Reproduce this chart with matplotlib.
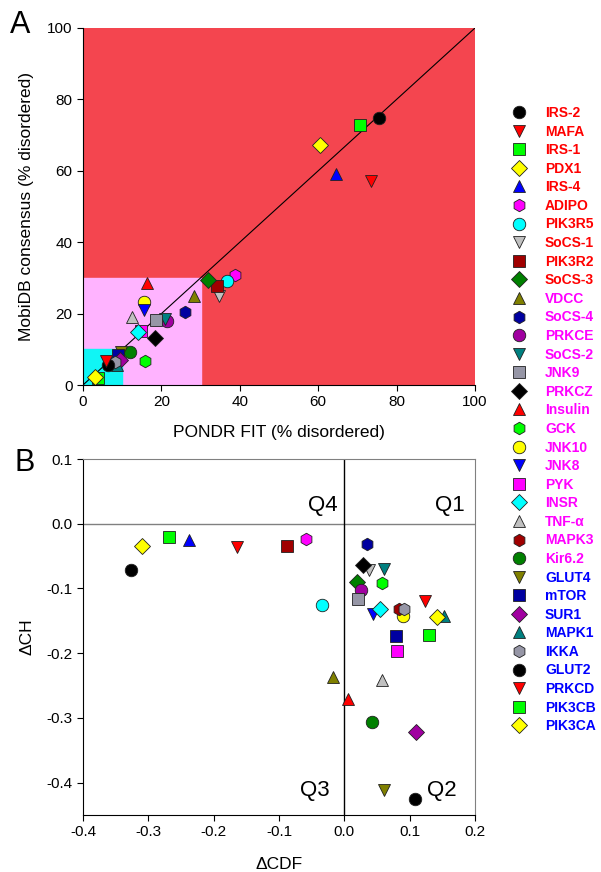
import matplotlib
matplotlib.use("Agg")
import matplotlib.pyplot as plt
from matplotlib.patches import Rectangle
from matplotlib.lines import Line2D

plt.rcParams['font.family'] = ['Liberation Sans', 'DejaVu Sans']
plt.rcParams['axes.unicode_minus'] = False

# Proteine (Reihenfolge wie in der Legende)
names = ["IRS-2", "MAFA", "IRS-1", "PDX1", "IRS-4", "ADIPO", "PIK3R5", "SoCS-1",
         "PIK3R2", "SoCS-3", "VDCC", "SoCS-4", "PRKCE", "SoCS-2", "JNK9", "PRKCZ",
         "Insulin", "GCK", "JNK10", "JNK8", "PYK", "INSR", "TNF-α", "MAPK3",
         "Kir6.2", "GLUT4", "mTOR", "SUR1", "MAPK1", "IKKA", "GLUT2", "PRKCD",
         "PIK3CB", "PIK3CA"]

# Panel A: PONDR FIT vs. MobiDB (% disordered)
pondr = [75.6, 73.4, 70.7, 60.5, 64.5, 38.9, 36.7, 34.7,
         34.1, 32.0, 28.4, 26.1, 21.5, 20.9, 18.5, 18.4,
         16.4, 15.8, 15.6, 15.6, 14.8, 14.0, 12.4, 9.0,
         12.0, 9.6, 9.0, 9.4, 8.6, 8.2, 6.5, 5.8,
         3.9, 3.1]
mobidb = [74.9, 57.2, 72.8, 67.2, 59.1, 30.8, 29.2, 24.9,
          27.7, 29.4, 24.9, 20.4, 17.9, 18.4, 18.2, 13.1,
          28.5, 6.8, 23.3, 21.0, 15.2, 14.8, 19.1, 7.5,
          9.2, 9.2, 8.4, 7.0, 5.6, 6.5, 5.6, 6.8,
          1.9, 2.2]

# Panel B: CH-CDF
dcdf = [-0.327, -0.164, -0.269, -0.309, -0.238, -0.059, -0.034, 0.038,
        -0.088, 0.019, -0.018, 0.035, 0.026, 0.061, 0.021, 0.028,
        0.005, 0.057, 0.090, 0.044, 0.081, 0.055, 0.058, 0.083,
        0.043, 0.060, 0.079, 0.109, 0.152, 0.091, 0.108, 0.123,
        0.130, 0.142]
dch = [-0.072, -0.036, -0.021, -0.034, -0.025, -0.023, -0.126, -0.071,
       -0.034, -0.090, -0.237, -0.031, -0.102, -0.070, -0.117, -0.064,
       -0.271, -0.091, -0.142, -0.140, -0.196, -0.132, -0.241, -0.132,
       -0.306, -0.412, -0.173, -0.322, -0.143, -0.131, -0.426, -0.120,
       -0.172, -0.144]

# Symbole und Farben (SigmaPlot-Zyklus)
symbols = ["o", "v", "s", "D", "^", "h"]
palette = ["#000000", "#FF0000", "#00FF00", "#FFFF00", "#0000FF", "#FF00FF",
           "#00FFFF", "#C0C0C0", "#A00000", "#008000", "#808000", "#0000A0",
           "#A000A0", "#008080", "#9696A6"]
label_colors = ["#FF0000"] * 10 + ["#FF00FF"] * 15 + ["#0000FF"] * 9

fig = plt.figure(figsize=(6.01, 8.72), dpi=100)
axA = fig.add_axes([83 / 601, 1 - 385 / 872, 392 / 601, 357 / 872])
axB = fig.add_axes([83 / 601, 1 - 815 / 872, 392 / 601, 356 / 872])

# Panel A Hintergrund
axA.add_patch(Rectangle((0, 0), 100, 100, color="#F4454F", zorder=0))
axA.add_patch(Rectangle((0, 0), 30, 30, color="#FFB3FF", zorder=0))
axA.add_patch(Rectangle((0, 0), 10, 10, color="#10F5F5", zorder=0))
axA.plot([0, 100], [0, 100], color="k", lw=0.8, zorder=1)

handles = []
for i, name in enumerate(names):
    m = symbols[i % 6]
    c = palette[i % 15]
    ms = 8 if m == "D" else 9
    axA.plot(pondr[i], mobidb[i], marker=m, color=c, mec="#202020", mew=0.6,
             ms=ms, ls="none", zorder=2)
    axB.plot(dcdf[i], dch[i], marker=m, color=c, mec="#202020", mew=0.6,
             ms=ms, ls="none", zorder=2)
    handles.append(Line2D([], [], marker=m, color=c, mec="#202020", mew=0.6,
                          ms=ms, ls="none"))

axA.set_xlim(0, 100)
axA.set_ylim(0, 100)
axA.set_xticks(range(0, 101, 20))
axA.set_yticks(range(0, 101, 20))
axA.spines["top"].set_visible(False)
axA.spines["right"].set_visible(False)
axA.tick_params(direction="out", length=4, width=0.8, labelsize=11)
axA.set_xlabel("PONDR FIT (% disordered)", fontsize=12.5)
axA.set_ylabel("MobiDB consensus (% disordered)", fontsize=12.5)
axA.xaxis.set_label_coords(0.5, -0.112)
axA.yaxis.set_label_coords(-0.125, 0.5)

# Panel B
axB.axhline(0, color="#808080", lw=1, zorder=1)
axB.axvline(0, color="k", lw=1, zorder=1)
axB.set_xlim(-0.4, 0.2)
axB.set_ylim(-0.45, 0.1)
axB.set_xticks([-0.4, -0.3, -0.2, -0.1, 0.0, 0.1, 0.2])
axB.set_yticks([-0.4, -0.3, -0.2, -0.1, 0.0, 0.1])
axB.xaxis.set_major_formatter(plt.FormatStrFormatter("%.1f"))
axB.yaxis.set_major_formatter(plt.FormatStrFormatter("%.1f"))
axB.spines["top"].set_color("#808080")
axB.spines["right"].set_color("#808080")
axB.tick_params(direction="out", length=4, width=0.8, labelsize=11)
axB.set_xlabel("ΔCDF", fontsize=12.5)
axB.set_ylabel("ΔCH", fontsize=12.5)
axB.xaxis.set_label_coords(0.5, -0.118)
axB.yaxis.set_label_coords(-0.125, 0.5)

axB.text(-0.010, 0.028, "Q4", fontsize=16, ha="right", va="center")
axB.text(0.185, 0.028, "Q1", fontsize=16, ha="right", va="center")
axB.text(-0.022, -0.412, "Q3", fontsize=16, ha="right", va="center")
axB.text(0.172, -0.412, "Q2", fontsize=16, ha="right", va="center")

fig.text(20 / 601, 1 - 25 / 872, "A", fontsize=22, ha="center", va="center")
fig.text(25 / 601, 1 - 463 / 872, "B", fontsize=22, ha="center", va="center")

leg = fig.legend(handles, names, loc="upper left",
                 bbox_to_anchor=(512 / 601, 1 - 106 / 872),
                 frameon=False, borderpad=0, borderaxespad=0,
                 handlelength=1.0, handletextpad=1.37, labelspacing=0.33,
                 prop=dict(weight="bold", size=10), labelcolor=label_colors)

fig.savefig("out.png", dpi=100)
